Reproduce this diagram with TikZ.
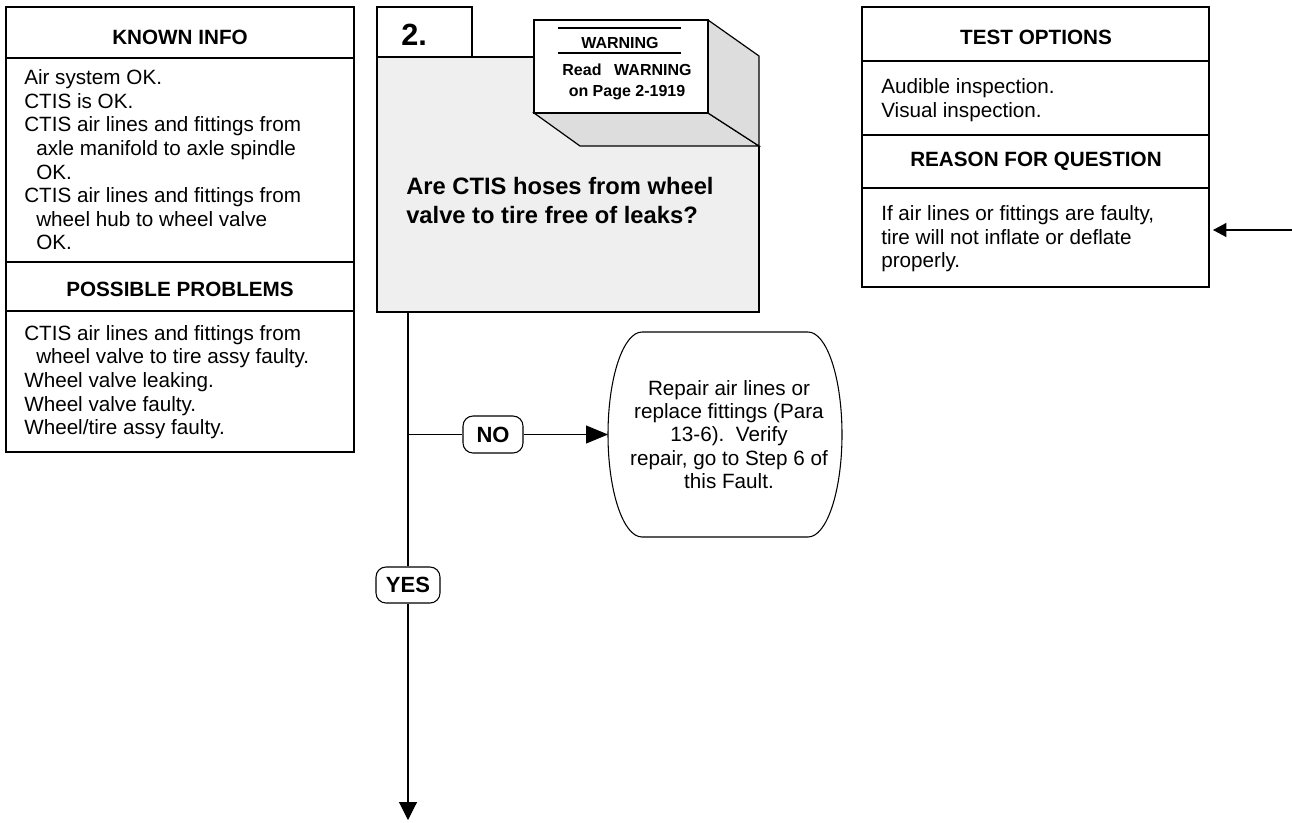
\documentclass[tikz,border=0pt]{standalone}
\usepackage{fontspec}
\setmainfont{Liberation Sans}
\usetikzlibrary{arrows.meta,calc}

\definecolor{qgray}{RGB}{239,239,239}
\definecolor{sidegray}{RGB}{221,221,221}

\begin{document}
\begin{tikzpicture}[x=0.75pt,y=-0.75pt,
  cell/.style={draw, line width=0.9pt, rectangle, inner sep=0pt, outer sep=0pt},
  headtxt/.style={anchor=base, inner sep=0pt, font=\fontsize{15.5}{17.7}\selectfont\bfseries},
  bodytxt/.style={anchor=north west, inner sep=0pt, align=left, font=\fontsize{15.5}{17.7}\selectfont},
  tag/.style={draw, line width=0.8pt, fill=white, rounded corners=7.5pt, inner sep=0pt,
    font=\fontsize{16.5}{18}\selectfont\bfseries},
  link/.style={line width=0.8pt},
  arr/.style={line width=0.8pt, -{Triangle[length=13.5pt,width=13.5pt]}},
  arrno/.style={line width=0.8pt, -{Triangle[length=16.5pt,width=13.5pt]}},
  arrin/.style={line width=0.8pt, -{Triangle[length=10pt,width=10.5pt]}},
]
\useasboundingbox (0,0) rectangle (1292,822);

% ---------- Known info / possible problems ----------
\node[cell, minimum width=261pt, minimum height=38.25pt] (kh) at (180,32.5) {};
\node[cell, minimum width=261pt, minimum height=153pt] (kb) at (180,160) {};
\node[cell, minimum width=261pt, minimum height=36.75pt] (ph) at (180,286.5) {};
\node[cell, minimum width=261pt, minimum height=105.75pt] (pb) at (180,381.5) {};
\node[headtxt] (khtxt) at (180,44) {KNOWN INFO};
\node[bodytxt] (kbtxt) at (24,69.4) {Air system OK.\\
CTIS is OK.\\
CTIS air lines and fittings from\\
\hspace*{9pt}axle manifold to axle spindle\\
\hspace*{9pt}OK.\\
CTIS air lines and fittings from\\
\hspace*{9pt}wheel hub to wheel valve\\
\hspace*{9pt}OK.};
\node[headtxt] (phtxt) at (180,296) {POSSIBLE PROBLEMS};
\node[bodytxt] (pbtxt) at (24,325) {CTIS air lines and fittings from\\
\hspace*{9pt}wheel valve to tire assy faulty.\\
Wheel valve leaking.\\
Wheel valve faulty.\\
Wheel/tire assy faulty.};

% ---------- Test options / reason for question ----------
\node[cell, minimum width=260.25pt, minimum height=40.5pt] (th) at (1035.5,34) {};
\node[cell, minimum width=260.25pt, minimum height=55.5pt] (tb) at (1035.5,98) {};
\node[cell, minimum width=260.25pt, minimum height=39.75pt] (rh) at (1035.5,161.5) {};
\node[cell, minimum width=260.25pt, minimum height=74.25pt] (rb) at (1035.5,237.5) {};
\node[headtxt] (thtxt) at (1036,44) {TEST OPTIONS};
\node[bodytxt] (tbtxt) at (881,78.2) {Audible inspection.\\Visual inspection.};
\node[headtxt] (rhtxt) at (1036,166) {REASON FOR QUESTION};
\node[bodytxt] (rbtxt) at (881,205.2) {If air lines or fittings are faulty,\\
tire will not inflate or deflate\\
properly.};

% ---------- Step 2 question box with the raised warning block ----------
\fill[qgray] (377,57) -- (534,57) -- (534,113) -- (580,146) -- (759,146)
  -- (759,312) -- (377,312) -- cycle;
\draw[line width=0.9pt] (534,57) -- (377,57) -- (377,312) -- (759,312) -- (759,146);
\node[inner sep=0pt, outer sep=0pt, minimum width=286.5pt, minimum height=191.25pt] (q) at (568,184.5) {};
\filldraw[fill=sidegray, line width=0.9pt] (534,113) -- (708,113) -- (759,146) -- (580,146) -- cycle;
\filldraw[fill=sidegray, line width=0.9pt] (708,20) -- (759,56) -- (759,146) -- (708,113) -- cycle;
\node[cell, fill=white, minimum width=130.5pt, minimum height=69.75pt] (warn) at (621,66.5) {};
\draw[line width=1.3pt] (558,28) -- (681,28);
\draw[line width=1.3pt] (558,53) -- (681,53);
\node[anchor=base, inner sep=0pt, font=\fontsize{12}{14}\selectfont\bfseries] (wtitle) at (620,48) {WARNING};
\node[anchor=base, inner sep=0pt, font=\fontsize{12}{14}\selectfont\bfseries] (wline1) at (627,75) {Read\hspace{9.5pt}WARNING};
\node[anchor=base, inner sep=0pt, font=\fontsize{12}{14}\selectfont\bfseries] (wline2) at (627,96) {on Page 2-1919};

\node[cell, fill=white, minimum width=71.25pt, minimum height=37.5pt] (tab) at (424.5,32) {};
\node[anchor=base west, inner sep=0pt, font=\fontsize{23}{25}\selectfont\bfseries] (stepno) at (401,45) {2.};

\node[anchor=north west, inner sep=0pt, align=left, font=\fontsize{17.8}{21.4}\selectfont\bfseries] (qtxt) at (406,177)
  {Are CTIS hoses from wheel\\valve to tire free of leaks?};

% ---------- Repair terminal ----------
\draw[line width=0.8pt] (642,332) -- (808,332)
  arc[start angle=90, end angle=-90, x radius=25.5pt, y radius=76.875pt]
  -- (642,537)
  arc[start angle=270, end angle=90, x radius=25.5pt, y radius=76.875pt];
\node[inner sep=0pt, outer sep=0pt, minimum width=175.5pt, minimum height=153.75pt,
  align=center, font=\fontsize{15.5}{17.4}\selectfont] (repair) at (725,434.5)
  {\hspace*{6pt}Repair air lines or\\
   \hspace*{6pt}replace fittings (Para\\
   \hspace*{6pt}13-6).\ \ Verify\\
   \hspace*{6pt}repair, go to Step 6 of\\
   \hspace*{6pt}this Fault.};

% ---------- Flow connectors ----------
\node[tag, minimum width=48pt, minimum height=27pt] (yes) at (408,585) {YES};
\node[tag, minimum width=45pt, minimum height=27.75pt] (no) at (493,434.5) {NO};
\coordinate (down) at (408,820);
\coordinate (feed) at (1292,230);

\draw[link] (yes |- q.south) -- (yes);
\draw[arr] (yes) -- (down);
\draw[link] (yes |- no) -- (no);
\draw[arrno] (no) -- (repair);
\draw[arrin, shorten >=3pt] (feed) -- (feed -| rb.east);
\end{tikzpicture}
\end{document}
